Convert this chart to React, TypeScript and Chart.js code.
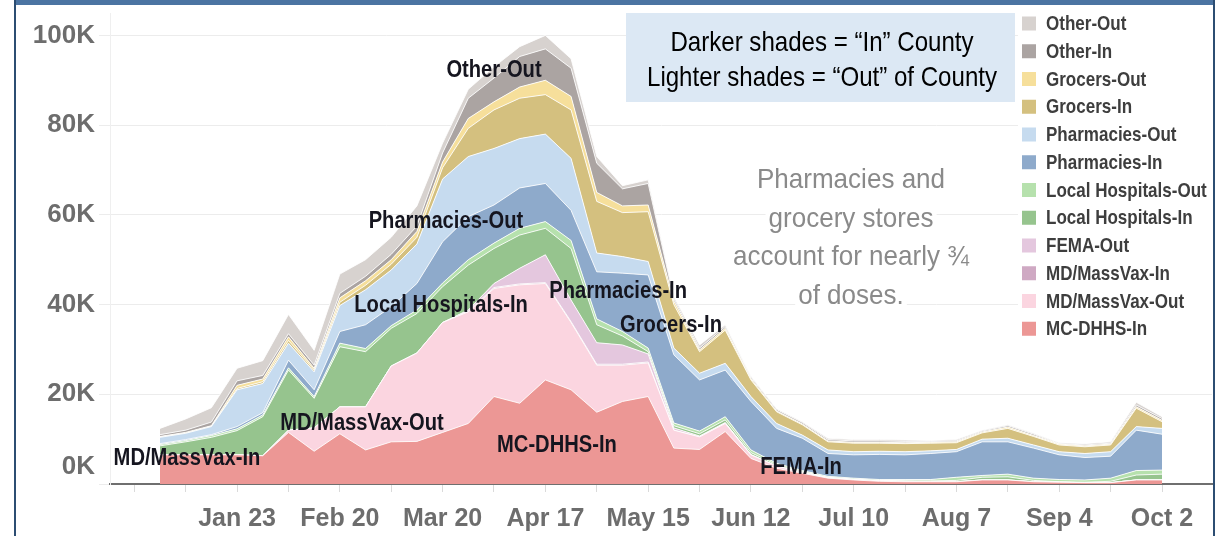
import React, { useEffect, useRef } from 'react';
import { Chart, registerables } from 'chart.js';

Chart.register(...registerables);

// ---------------- data (doses, in thousands) ----------------
const weeks = [
  'Jan 2', 'Jan 9', 'Jan 16', 'Jan 23', 'Jan 30', 'Feb 6', 'Feb 13', 'Feb 20', 'Feb 27', 'Mar 6',
  'Mar 13', 'Mar 20', 'Mar 27', 'Apr 3', 'Apr 10', 'Apr 17', 'Apr 24', 'May 1', 'May 8', 'May 15',
  'May 22', 'May 29', 'Jun 5', 'Jun 12', 'Jun 19', 'Jun 26', 'Jul 3', 'Jul 10', 'Jul 17', 'Jul 24',
  'Jul 31', 'Aug 7', 'Aug 14', 'Aug 21', 'Aug 28', 'Sep 4', 'Sep 11', 'Sep 18', 'Sep 25', 'Oct 2',
];

const yTicks = [0, 20, 40, 60, 80, 100];
const xTickWeeks = [-1, 1, 3, 5, 7, 9, 11, 13, 15, 17, 19, 21, 23, 25, 27, 29, 31, 33, 35, 37, 39];
const xLabelWeeks = [3, 7, 11, 15, 19, 23, 27, 31, 35, 39];

const mcDhhsIn = [6.5, 6.5, 6.5, 6.5, 6.3, 11.5, 7.3, 11.2, 7.6, 9.4, 9.5, 11.5, 13.5, 19.5, 18.0, 23.2, 21.0, 16.0, 18.4, 19.5, 8.0, 7.7, 11.7, 5.7, 3.5, 2.4, 1.3, 0.9, 0.6, 0.5, 0.5, 0.5, 0.9, 0.9, 0.5, 0.4, 0.3, 0.3, 0.9, 0.9];
const mdMassVaxOut = [0, 0, 0, 0, 0, 0.5, 5.2, 6.0, 9.6, 16.9, 19.7, 24.5, 24.9, 24.1, 26.4, 21.5, 15.0, 10.5, 8.1, 7.5, 4.0, 2.8, 1.8, 0.8, 0.5, 0.2, 0.1, 0.1, 0.1, 0.1, 0, 0, 0, 0, 0, 0, 0, 0, 0, 0];
const mdMassVaxIn = [0, 0, 0, 0, 0, 0, 0, 0, 0, 0, 0, 0, 0.2, 0.2, 0.2, 0.2, 0.2, 0.2, 0.2, 0.2, 0, 0, 0, 0, 0, 0, 0, 0, 0, 0, 0, 0, 0, 0, 0, 0, 0, 0, 0, 0];
const femaOut = [0, 0, 0, 0, 0, 0, 0, 0, 0, 0, 0, 0, 0.2, 0.9, 3.5, 6.2, 4.8, 4.8, 4.3, 1.8, 0.5, 0.2, 0.2, 0.1, 0, 0, 0, 0, 0, 0, 0, 0, 0, 0, 0, 0, 0, 0, 0, 0];
const localHospIn = [2.0, 2.9, 3.9, 5.4, 8.7, 13.4, 6.6, 13.4, 12.3, 8.4, 8.8, 8.0, 10.0, 7.8, 7.4, 5.9, 11.5, 4.0, 2.0, 0.5, 0.5, 0.5, 0.6, 0.4, 0.3, 0.2, 0.1, 0.1, 0.1, 0.1, 0.2, 0.3, 0.6, 0.7, 0.3, 0.1, 0.1, 0.3, 1.1, 1.3];
const localHospOut = [0.3, 0.3, 0.4, 0.4, 0.4, 0.5, 0.4, 0.8, 0.7, 0.6, 0.8, 0.8, 1.2, 1.2, 1.5, 1.5, 1.8, 1.3, 1.0, 0.8, 0.6, 0.6, 0.7, 0.6, 0.3, 0.2, 0.2, 0.2, 0.2, 0.3, 0.3, 0.7, 0.4, 0.6, 0.5, 0.5, 0.5, 0.7, 1.0, 0.9];
const pharmIn = [0.2, 0.2, 0.2, 0.5, 0.5, 1.7, 1.5, 2.6, 5.3, 4.2, 5.9, 9.2, 9.6, 8.5, 9.0, 8.5, 6.7, 10.5, 13.0, 16.3, 15.2, 11.4, 10.4, 10.8, 7.8, 7.2, 5.1, 5.2, 5.6, 5.5, 5.8, 5.7, 7.5, 7.2, 6.7, 5.5, 5.0, 4.9, 9.0, 8.0];
const pharmOut = [1.4, 1.4, 1.8, 8.2, 6.5, 3.8, 4.0, 5.8, 7.8, 8.2, 8.8, 14.0, 13.4, 12.6, 11.0, 11.0, 11.6, 4.2, 3.7, 3.0, 1.5, 1.5, 1.5, 1.1, 1.1, 0.7, 0.8, 0.7, 0.7, 0.7, 0.6, 0.5, 0.6, 0.8, 0.7, 0.7, 0.9, 1.0, 0.8, 1.3];
const grocersIn = [0.1, 0.1, 0.1, 0.3, 0.4, 0.6, 0.4, 0.7, 1.0, 1.3, 1.5, 2.5, 6.3, 8.6, 9.0, 8.8, 10.8, 11.5, 9.8, 11.1, 9.7, 4.8, 7.4, 3.7, 2.6, 2.3, 1.8, 1.9, 1.8, 1.8, 1.7, 1.5, 1.4, 2.2, 1.9, 1.5, 1.5, 1.5, 4.1, 1.5];
const grocersOut = [0.1, 0.1, 0.1, 0.7, 0.6, 0.8, 0.4, 1.0, 1.0, 1.0, 1.3, 1.3, 2.2, 1.8, 2.5, 3.2, 3.0, 2.0, 1.5, 1.5, 0.8, 0.4, 0.4, 0.3, 0.2, 0.2, 0.2, 0.2, 0.2, 0.2, 0.2, 0.2, 0.2, 0.3, 0.2, 0.2, 0.2, 0.2, 0.3, 0.3];
const otherIn = [0.4, 0.5, 0.8, 1.0, 0.8, 0.7, 0.7, 1.0, 1.0, 1.2, 1.2, 2.0, 4.5, 5.3, 6.8, 7.0, 6.3, 6.5, 3.8, 4.8, 0.5, 0.4, 0.4, 0.3, 0.3, 0.3, 0.3, 0.3, 0.3, 0.3, 0.2, 0.2, 0.2, 0.3, 0.3, 0.1, 0.2, 0.2, 0.4, 0.4];
const otherOut = [1.4, 2.5, 3.2, 2.8, 3.3, 4.3, 3.3, 4.3, 3.7, 3.8, 4.5, 2.2, 2.0, 2.5, 2.2, 3.0, 2.1, 1.5, 0.7, 0.8, 0.5, 0.7, 0.4, 0.2, 0.2, 0.2, 0.3, 0.3, 0.3, 0.3, 0.2, 0.3, 0.2, 0.2, 0.2, 0.2, 0.3, 0.3, 0.6, 0.4];

// stacking order: bottom -> top
const seriesNames = [
  'MC-DHHS-In', 'MD/MassVax-Out', 'MD/MassVax-In', 'FEMA-Out', 'Local Hospitals-In', 'Local Hospitals-Out',
  'Pharmacies-In', 'Pharmacies-Out', 'Grocers-In', 'Grocers-Out', 'Other-In', 'Other-Out',
];
const seriesValues = [
  mcDhhsIn, mdMassVaxOut, mdMassVaxIn, femaOut, localHospIn, localHospOut,
  pharmIn, pharmOut, grocersIn, grocersOut, otherIn, otherOut,
];
const seriesColors = [
  '#ec9795', '#fbd5e0', '#cfa9c3', '#e4c7de', '#96c48e', '#b6e1ad',
  '#8eaacb', '#c6dbef', '#d4c07f', '#f6df9b', '#aba4a2', '#d7d2cf',
];

// area labels anchored in data space: text, week index, value (K)
const areaLabelText = ['Other-Out', 'Pharmacies-Out', 'Local Hospitals-In', 'Pharmacies-In', 'Grocers-In', 'MD/MassVax-Out', 'MC-DHHS-In', 'MD/MassVax-In', 'FEMA-In'];
const areaLabelWeek = [13.0, 11.13, 10.94, 17.83, 19.89, 7.86, 15.45, 1.05, 24.95];
const areaLabelValue = [92.3, 58.6, 39.9, 43.0, 35.4, 13.6, 8.5, 5.8, 3.8];

const boxLines = ['Darker shades = \u201CIn\u201D County', 'Lighter shades = \u201COut\u201D of County'];
const noteLines = ['Pharmacies and', 'grocery stores', 'account for nearly \u00BE', 'of doses.'];

const REG = '"Liberation Sans", Arial, sans-serif';
const TICK_COLOR = '#6d6d6d';

// draws text condensed horizontally by factor sx (the reference uses a condensed face)
function drawCondensed(ctx: CanvasRenderingContext2D, text: string, x: number, y: number, sx: number) {
  ctx.save();
  ctx.translate(x, y);
  ctx.scale(sx, 1);
  ctx.fillText(text, 0, 0);
  ctx.restore();
}

const overlay = {
  id: 'overlay',
  afterDatasetsDraw(chart: any) {
    const ctx = chart.ctx as CanvasRenderingContext2D;
    const xs = chart.scales.x;
    const ys = chart.scales.y;
    ctx.save();
    ctx.font = `bold 24px ${REG}`;
    ctx.fillStyle = '#15151f';
    ctx.textAlign = 'center';
    ctx.textBaseline = 'middle';
    areaLabelText.forEach((t, k) => {
      drawCondensed(ctx, t, xs.getPixelForValue(areaLabelWeek[k]), ys.getPixelForValue(areaLabelValue[k]), 0.84);
    });
    ctx.restore();
  },
  afterDraw(chart: any) {
    const ctx = chart.ctx as CanvasRenderingContext2D;
    ctx.save();

    // "0K" label (sits above the baseline, as in the reference)
    ctx.font = `bold 26px ${REG}`;
    ctx.fillStyle = TICK_COLOR;
    ctx.textAlign = 'right';
    ctx.textBaseline = 'middle';
    ctx.fillText('0K', 95, 467);

    // info box
    ctx.fillStyle = '#dce8f4';
    ctx.fillRect(626, 13, 389, 89);
    ctx.fillStyle = '#000';
    ctx.font = `28px ${REG}`;
    ctx.textAlign = 'center';
    drawCondensed(ctx, boxLines[0], 822, 43, 0.86);
    drawCondensed(ctx, boxLines[1], 822, 78, 0.86);

    // grey note
    ctx.font = `28px ${REG}`;
    const noteY = [180, 219, 257, 296];
    noteLines.forEach((t, k) => {
      const w = ctx.measureText(t).width * 0.93;
      ctx.fillStyle = '#fff';
      ctx.fillRect(851 - w / 2 - 3, noteY[k] - 15, w + 6, 30);
      ctx.fillStyle = '#8a8a8a';
      drawCondensed(ctx, t, 851, noteY[k], 0.93);
    });

    // legend
    ctx.fillStyle = '#fff';
    ctx.fillRect(1018, 7, 194, 336);
    ctx.font = `bold 20.5px ${REG}`;
    ctx.textAlign = 'left';
    for (let r = 0; r < seriesNames.length; r++) {
      const k = seriesNames.length - 1 - r;
      const cy = 23.5 + r * 27.75;
      ctx.fillStyle = seriesColors[k];
      ctx.fillRect(1022, cy - 7, 14, 14);
      ctx.fillStyle = '#3e3e3e';
      drawCondensed(ctx, seriesNames[k], 1046, cy + 1, 0.83);
    }

    // frame
    ctx.fillStyle = '#4b74a2';
    ctx.fillRect(14, 0, 1201, 5);
    ctx.fillStyle = '#2c4d72';
    ctx.fillRect(14, 0, 2, 536);
    ctx.fillRect(1213, 0, 2, 536);
    ctx.restore();
  },
};

export default function App() {
  const ref = useRef<HTMLCanvasElement>(null);

  useEffect(() => {
    document.body.style.margin = '0';
    const canvas = ref.current;
    if (!canvas) return;

    const datasets = seriesValues.map((vals, k) => ({
      label: seriesNames[k],
      data: vals.map((v, i) => ({ x: i, y: v })),
      backgroundColor: seriesColors[k],
      borderColor: 'rgba(255,255,255,0.85)',
      borderWidth: 1,
      pointRadius: 0,
      pointHoverRadius: 0,
      fill: k === 0 ? 'origin' : '-1',
      tension: 0,
    }));

    const chart = new Chart(canvas, {
      type: 'line',
      data: { datasets },
      options: {
        animation: false,
        responsive: false,
        devicePixelRatio: 1,
        events: [],
        layout: { padding: { top: 13, right: 17, bottom: 0, left: 0 } },
        plugins: { legend: { display: false }, tooltip: { enabled: false } },
        scales: {
          x: {
            type: 'linear',
            min: -1.946,
            max: 40.946,
            afterBuildTicks: (s: any) => {
              s.ticks = xTickWeeks.map((v) => ({ value: v }));
            },
            afterFit: (s: any) => {
              s.height = 52;
              s.paddingLeft = 0;
              s.paddingRight = 0;
            },
            grid: {
              drawOnChartArea: false,
              drawTicks: true,
              tickLength: 8,
              tickColor: '#dadada',
              color: '#dadada',
            },
            border: { display: true, color: '#6f6f6f', width: 2 },
            ticks: {
              autoSkip: false,
              maxRotation: 0,
              minRotation: 0,
              padding: 12,
              color: TICK_COLOR,
              font: { family: REG, size: 25, weight: 'bold' },
              callback: (v: any) => (xLabelWeeks.includes(Number(v)) ? weeks[Number(v)] : ''),
            },
          },
          y: {
            stacked: true,
            min: 0,
            max: 105,
            afterBuildTicks: (s: any) => {
              s.ticks = yTicks.map((v) => ({ value: v }));
            },
            afterFit: (s: any) => {
              s.width = 110;
              s.paddingTop = 0;
              s.paddingBottom = 0;
            },
            grid: { color: '#ececec', tickLength: 11, tickColor: '#ececec' },
            border: { display: true, color: '#efefef', width: 1 },
            ticks: {
              padding: 4,
              color: TICK_COLOR,
              font: { family: REG, size: 26, weight: 'bold' },
              callback: (v: any) => (Number(v) === 0 ? '' : `${v}K`),
            },
          },
        },
      } as any,
      plugins: [overlay],
    });

    return () => chart.destroy();
  }, []);

  return (
    <div style={{ position: 'fixed', left: 0, top: 0, width: 1229, height: 536, background: '#fff' }}>
      <canvas ref={ref} width={1229} height={536} style={{ display: 'block', width: 1229, height: 536 }} />
    </div>
  );
}
